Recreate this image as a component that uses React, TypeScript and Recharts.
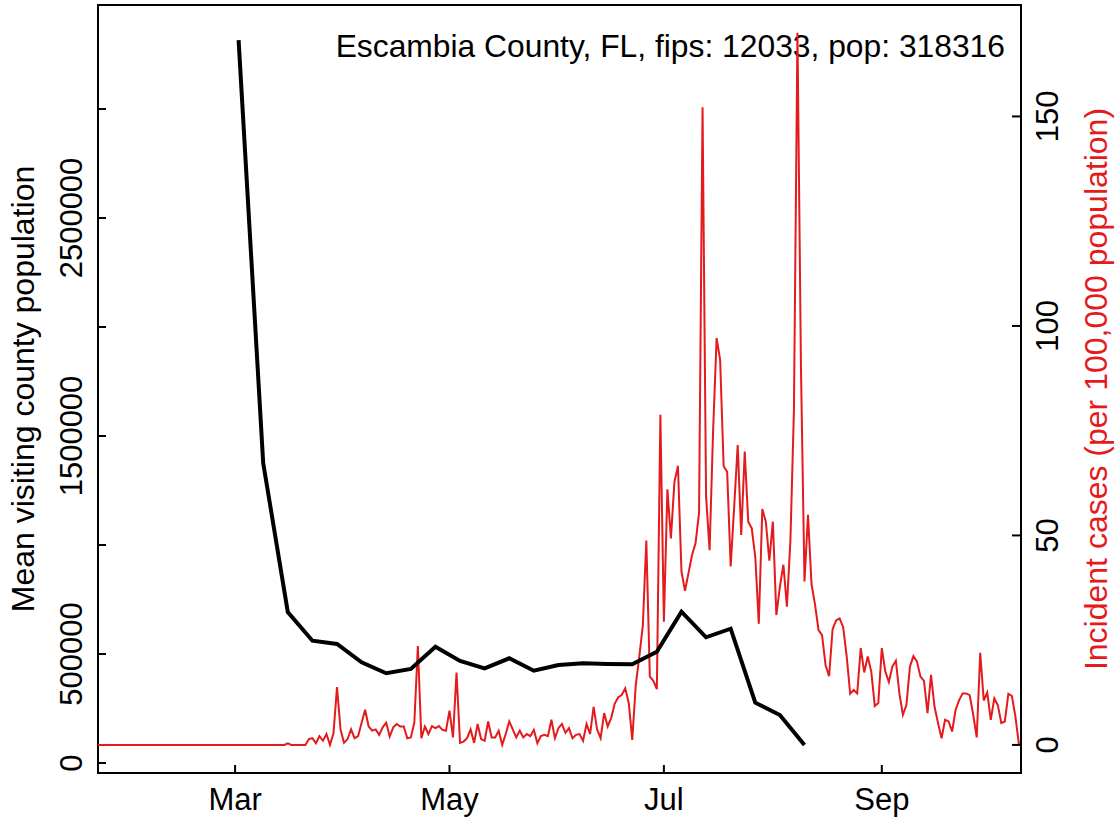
import React from "react";
import { ComposedChart, Line, XAxis, YAxis, ReferenceArea, Label } from "recharts";

const FONT = '"Liberation Sans", Arial, Helvetica, sans-serif';
const RED = "#e41a1c";

// x values are days counted from 2020-01-01 (day 0)
const caseStartDay = 21; // 2020-01-22, daily
const cases = [
  0, 0, 0, 0, 0, 0, 0, 0, 0, 0,
  0, 0, 0, 0, 0, 0, 0, 0, 0, 0,
  0, 0, 0, 0, 0, 0, 0, 0, 0, 0,
  0, 0, 0, 0, 0, 0, 0, 0, 0, 0,
  0, 0, 0, 0, 0, 0, 0, 0, 0, 0,
  0, 0, 0, 0, 0.4, 0, 0, 0, 0, 0,
  1.4, 1.6, 0.4, 2.1, 1.0, 2.6, 0, 2.8, 13.8, 3.7,
  0.5, 1.4, 3.7, 1.6, 2.1, 5.3, 8.4, 4.4, 3.4, 3.7,
  2.4, 4.2, 5.3, 2.0, 4.2, 5.0, 4.4, 4.4, 1.6, 1.8,
  5.3, 23.6, 1.6, 4.4, 2.6, 4.5, 4.0, 4.5, 3.6, 3.4,
  8.2, 1.8, 17.3, 0.5, 0.8, 1.6, 3.7, 0.5, 5.0, 1.4,
  1.0, 5.6, 1.8, 1.8, 3.4, 0, 2.6, 5.6, 3.7, 1.8,
  3.4, 1.8, 2.6, 2.1, 3.6, 0.4, 2.1, 2.4, 2.1, 6.0,
  1.6, 4.0, 5.0, 2.9, 4.0, 1.6, 2.4, 2.6, 1.0, 5.0,
  2.6, 9.1, 3.7, 1.6, 7.6, 4.4, 6.4, 9.8, 11.4, 11.9,
  13.5, 10.0, 1.2, 14.3, 21.1, 28.4, 48.8, 16.3, 15.3, 13.3,
  78.8, 29.4, 61.0, 49.3, 62.8, 66.6, 41.4, 36.8, 41.0, 45.3,
  48.1, 55.3, 152.2, 59.3, 46.5, 75, 97.1, 91.9, 66.5, 65.2,
  42.6, 56.9, 71.6, 50.1, 70.0, 53.3, 51.7, 44.9, 28.9, 56.3,
  53.3, 44.0, 53.3, 31.0, 37.8, 43.0, 33.0, 48.9, 80, 170,
  90, 39.0, 54.9, 38.4, 33.5, 27.4, 26.2, 19.0, 16.4, 27.6,
  29.7, 30.2, 28.1, 21.2, 12.2, 13.1, 12.3, 23.1, 17.3, 21.1,
  17.5, 9.3, 10.0, 23.1, 17.5, 15.0, 18.7, 20.1, 12.3, 7.2,
  9.5, 18.7, 21.2, 19.9, 16.3, 15.3, 7.6, 16.7, 9.1, 5.2,
  1.6, 6.0, 5.6, 3.2, 8.4, 10.7, 12.3, 12.3, 11.9, 7.2,
  1.8, 22.0, 10.6, 12.5, 6.0, 11.1, 9.5, 5.2, 5.6, 12.2,
  11.7, 6.8, 0.2,
];

const visitStartDay = 61; // 2020-03-02, weekly
const visits = [
  3316000, 1376000, 692600, 561000, 545900, 461900, 411500, 431200,
  533500, 467900, 434400, 480300, 423400, 449500, 457300, 454100,
  452700, 510500, 694000, 576600, 616000, 276600, 220200, 82600,
];

const monthTickDays = [60, 121, 182, 244];
const monthTickLabels = ["Mar", "May", "Jul", "Sep"];

const leftTicks = [0, 500000, 1000000, 1500000, 2000000, 2500000, 3000000];
const leftTickLabels = ["0", "500000", "", "1500000", "", "2500000", ""];
const rightTicks = [0, 50, 100, 150];

const xDomain = [21, 283.6];
const leftDomain = [-45870, 3477000];
const rightDomain = [-6.7, 176.6];

const data = cases.map((c, i) => {
  const day = caseStartDay + i;
  const w = (day - visitStartDay) / 7;
  const v = Number.isInteger(w) && w >= 0 && w < visits.length ? visits[w] : null;
  return { day, cases: c, visits: v };
});

const FS = 31;

const BottomTick = (props: any) => {
  const { x, y, payload } = props;
  const label = monthTickLabels[monthTickDays.indexOf(payload.value)];
  return (
    <g>
      <line x1={x} x2={x} y1={y} y2={y - 8} stroke="#000" strokeWidth={2} />
      <text x={x} y={y + 37} textAnchor="middle" fontSize={FS} fontFamily={FONT} fill="#000">
        {label}
      </text>
    </g>
  );
};

const LeftTick = (props: any) => {
  const { x, y, payload } = props;
  const label = leftTickLabels[leftTicks.indexOf(payload.value)];
  return (
    <g>
      <line x1={x} x2={x + 8} y1={y} y2={y} stroke="#000" strokeWidth={2} />
      <text
        transform={`translate(${x - 16},${y}) rotate(-90)`}
        textAnchor="middle"
        fontSize={FS}
        fontFamily={FONT}
        fill="#000"
      >
        {label}
      </text>
    </g>
  );
};

const RightTick = (props: any) => {
  const { x, y, payload } = props;
  return (
    <g>
      <line x1={x} x2={x - 9} y1={y} y2={y} stroke="#000" strokeWidth={2} />
      <text
        transform={`translate(${x + 37},${y}) rotate(-90)`}
        textAnchor="middle"
        fontSize={FS}
        fontFamily={FONT}
        fill="#000"
      >
        {payload.value}
      </text>
    </g>
  );
};

export default function App() {
  return (
    <div style={{ position: "absolute", left: 0, top: 0, background: "#fff" }}>
      <ComposedChart
        width={1119}
        height={822}
        data={data}
        margin={{ top: 5, right: 0, bottom: 0, left: 0 }}
      >
        <XAxis
          dataKey="day"
          type="number"
          domain={xDomain}
          ticks={monthTickDays}
          interval={0}
          allowDataOverflow
          height={49}
          tickSize={0}
          tickMargin={0}
          axisLine={false}
          tickLine={false}
          tick={<BottomTick />}
        />
        <YAxis
          yAxisId="left"
          type="number"
          domain={leftDomain}
          ticks={leftTicks}
          interval={0}
          allowDataOverflow
          width={98}
          tickSize={0}
          tickMargin={0}
          axisLine={false}
          tickLine={false}
          tick={<LeftTick />}
        >
          <Label
            content={() => (
              <text
                transform="translate(34,389) rotate(-90)"
                textAnchor="middle"
                fontSize={32}
                fontFamily={FONT}
                fill="#000"
              >
                Mean visiting county population
              </text>
            )}
          />
        </YAxis>
        <YAxis
          yAxisId="right"
          orientation="right"
          type="number"
          domain={rightDomain}
          ticks={rightTicks}
          interval={0}
          allowDataOverflow
          width={98}
          tickSize={0}
          tickMargin={0}
          axisLine={false}
          tickLine={false}
          tick={<RightTick />}
        >
          <Label
            content={() => (
              <text
                transform="translate(1107,389) rotate(-90)"
                textAnchor="middle"
                fontSize={32}
                fontFamily={FONT}
                fill={RED}
              >
                Incident cases (per 100,000 population)
              </text>
            )}
          />
        </YAxis>
        <Line
          yAxisId="right"
          dataKey="cases"
          type="linear"
          stroke={RED}
          strokeWidth={2}
          dot={false}
          isAnimationActive={false}
        />
        <Line
          yAxisId="left"
          dataKey="visits"
          type="linear"
          stroke="#000"
          strokeWidth={4}
          dot={false}
          connectNulls
          isAnimationActive={false}
        />
        <ReferenceArea
          yAxisId="left"
          x1={xDomain[0]}
          x2={xDomain[1]}
          y1={leftDomain[0]}
          y2={leftDomain[1]}
          fill="none"
          stroke="#000"
          strokeWidth={2}
          ifOverflow="visible"
        >
          <Label
            content={() => (
              <text x={1005} y={57} textAnchor="end" fontSize={31.8} fontFamily={FONT} fill="#000">
                Escambia County, FL, fips: 12033, pop: 318316
              </text>
            )}
          />
        </ReferenceArea>
      </ComposedChart>
    </div>
  );
}
